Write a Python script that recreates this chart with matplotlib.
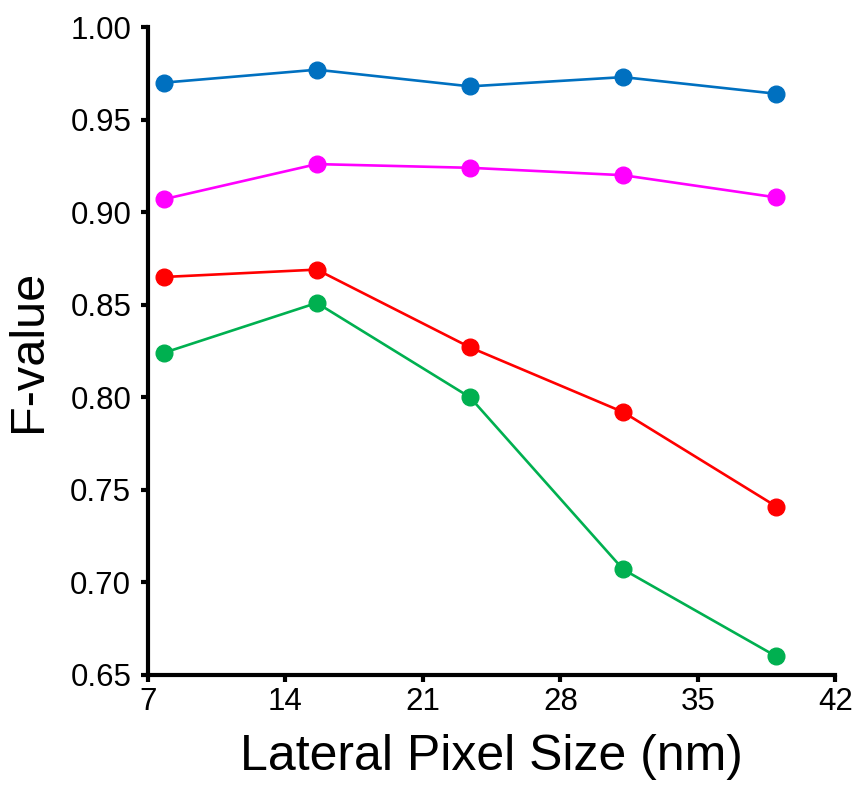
import matplotlib
matplotlib.use("Agg")
import matplotlib.pyplot as plt

plt.rcParams["font.family"] = ["Liberation Sans", "DejaVu Sans"]

# lateral pixel size (nm)
pixel_size = [7.8, 15.6, 23.4, 31.2, 39.0]

# F-value per series
blue = [0.970, 0.977, 0.968, 0.973, 0.964]
magenta = [0.907, 0.926, 0.924, 0.920, 0.908]
red = [0.865, 0.869, 0.827, 0.792, 0.741]
green = [0.824, 0.851, 0.800, 0.707, 0.660]

x_ticks = [7, 14, 21, 28, 35, 42]
y_ticks = [0.65, 0.70, 0.75, 0.80, 0.85, 0.90, 0.95, 1.00]

fig = plt.figure(figsize=(8.55, 7.91), dpi=100)
ax = fig.add_axes([0.173, 0.1467, 0.804, 0.819])

for vals, col in [(blue, "#0070C0"), (magenta, "#FF00FF"),
                  (red, "#FF0000"), (green, "#00B050")]:
    ax.plot(pixel_size, vals, color=col, linewidth=1.9, marker="o",
            markersize=12, clip_on=False)

ax.set_xlim(7, 42)
ax.set_ylim(0.65, 1.00)
ax.set_xticks(x_ticks)
ax.set_yticks(y_ticks)
ax.set_yticklabels([f"{v:.2f}" for v in y_ticks])

for side in ("top", "right"):
    ax.spines[side].set_visible(False)
for side in ("left", "bottom"):
    ax.spines[side].set_linewidth(3)
ax.tick_params(direction="out", length=5, width=3, labelsize=22.5, pad=4)
ax.tick_params(axis="y", pad=7)

ax.set_xlabel("Lateral Pixel Size (nm)", fontsize=36, labelpad=12)
ax.set_ylabel("F-value", fontsize=35, labelpad=14)

fig.savefig("out.png", dpi=100, facecolor="white")
